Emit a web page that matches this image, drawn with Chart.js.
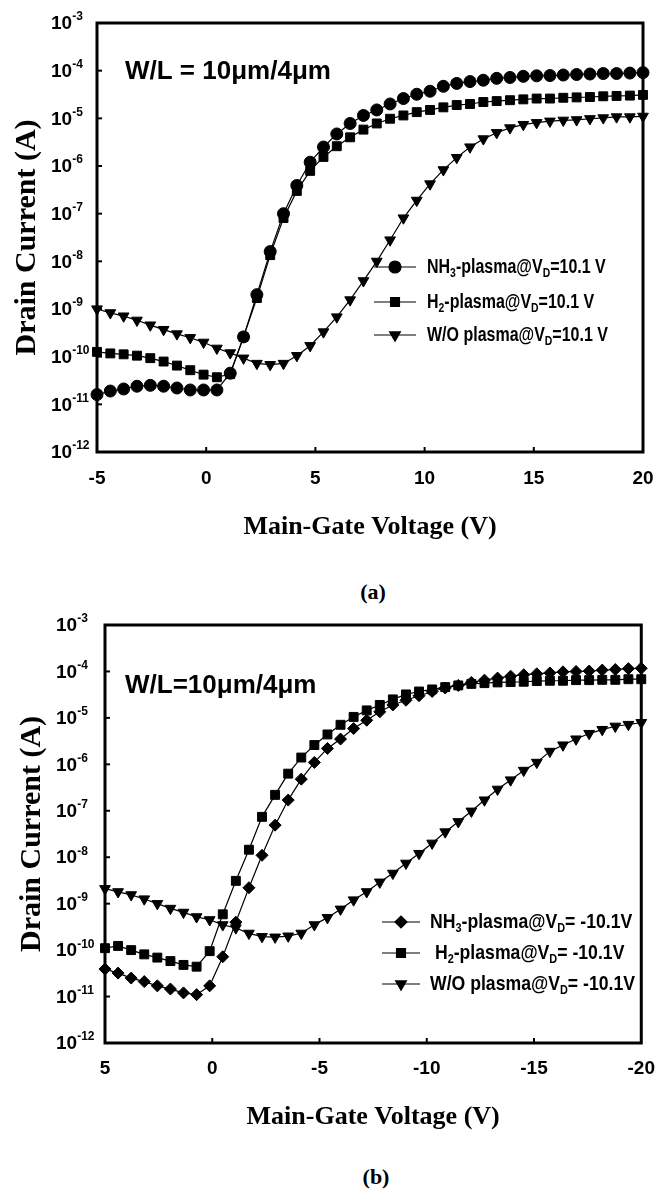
<!DOCTYPE html>
<html>
<head>
<meta charset="utf-8">
<title>Drain current vs main-gate voltage</title>
<script src="https://cdn.jsdelivr.net/npm/chart.js@4.4.0/dist/chart.umd.min.js"></script>
<style>
  html, body { margin: 0; padding: 0; background: #fff; }
  body { position: relative; width: 669px; height: 1189px; overflow: hidden; }
  .panel { position: absolute; left: 0; width: 669px; height: 560px; }
  .caption {
    position: absolute;
    font: bold 22px "Liberation Serif", "Times New Roman", serif;
    color: #000;
    transform: translate(-50%, -50%);
  }
</style>
</head>
<body>
<div class="panel" style="top:0px"><canvas id="chartA"></canvas></div>
<div class="caption" style="left:373px; top:592px">(a)</div>
<div class="panel" style="top:600px"><canvas id="chartB"></canvas></div>
<div class="caption" style="left:376px; top:1177px">(b)</div>
<script>
// y axis decades (exponents of 10)
const yTickExps = [-12, -11, -10, -9, -8, -7, -6, -5, -4, -3];

// (a) VD = 10.1 V, gate swept -5 .. 20 V
const xTicksA = [-5, 0, 5, 10, 15, 20];
const vgA = [
  -5.0, -4.39, -3.78, -3.17, -2.56, -1.95, -1.34, -0.73, -0.12, 0.49,
  1.1, 1.71, 2.32, 2.93, 3.54, 4.15, 4.76, 5.37, 5.98, 6.59,
  7.2, 7.81, 8.42, 9.03, 9.64, 10.25, 10.86, 11.47, 12.08, 12.69,
  13.3, 13.91, 14.52, 15.13, 15.74, 16.35, 16.96, 17.57, 18.18, 18.79,
  19.4, 20.0,
];
const nh3A = [
  1.6e-11, 1.9e-11, 2.1e-11, 2.4e-11, 2.5e-11, 2.4e-11, 2.2e-11, 2.0e-11, 2.0e-11, 2.0e-11,
  4.5e-11, 2.6e-10, 2.0e-9, 1.6e-8, 1.0e-7, 3.9e-7, 1.2e-6, 2.5e-6, 4.7e-6, 7.8e-6,
  1.15e-5, 1.5e-5, 2.0e-5, 2.6e-5, 3.2e-5, 3.7e-5, 4.7e-5, 5.4e-5, 5.9e-5, 6.3e-5,
  6.9e-5, 7.2e-5, 7.6e-5, 7.8e-5, 7.9e-5, 8.1e-5, 8.3e-5, 8.5e-5, 8.7e-5, 8.7e-5,
  8.9e-5, 9.1e-5,
];
const h2A = [
  1.26e-10, 1.17e-10, 1.12e-10, 1.05e-10, 9.3e-11, 7.9e-11, 6.5e-11, 5.2e-11, 4.2e-11, 3.7e-11,
  4.3e-11, 2.6e-10, 1.7e-9, 1.35e-8, 8.1e-8, 3.0e-7, 7.9e-7, 1.55e-6, 2.6e-6, 4.0e-6,
  5.8e-6, 7.8e-6, 9.8e-6, 1.15e-5, 1.35e-5, 1.5e-5, 1.7e-5, 1.9e-5, 2.0e-5, 2.2e-5,
  2.3e-5, 2.4e-5, 2.5e-5, 2.6e-5, 2.6e-5, 2.7e-5, 2.75e-5, 2.8e-5, 2.9e-5, 2.95e-5,
  3.0e-5, 3.1e-5,
];
const woA = [
  1.0e-9, 8.3e-10, 7.1e-10, 5.8e-10, 4.6e-10, 3.7e-10, 3.0e-10, 2.5e-10, 2.0e-10, 1.5e-10,
  1.2e-10, 9.3e-11, 7.2e-11, 6.8e-11, 7.2e-11, 1.05e-10, 1.7e-10, 3.3e-10, 6.8e-10, 1.55e-9,
  3.9e-9, 1.0e-8, 2.8e-8, 8.1e-8, 1.9e-7, 4.2e-7, 8.3e-7, 1.5e-6, 2.5e-6, 3.7e-6,
  5.0e-6, 6.3e-6, 7.4e-6, 8.1e-6, 8.7e-6, 9.1e-6, 9.3e-6, 9.8e-6, 1.02e-5, 1.07e-5,
  1.07e-5, 1.1e-5,
];

// (b) VD = -10.1 V, gate swept 5 .. -20 V
const xTicksB = [5, 0, -5, -10, -15, -20];
const vgB = [
  5.0, 4.39, 3.78, 3.17, 2.56, 1.95, 1.34, 0.73, 0.12, -0.49,
  -1.1, -1.71, -2.32, -2.93, -3.54, -4.15, -4.76, -5.37, -5.98, -6.59,
  -7.2, -7.81, -8.42, -9.03, -9.64, -10.25, -10.86, -11.47, -12.08, -12.69,
  -13.3, -13.91, -14.52, -15.13, -15.74, -16.35, -16.96, -17.57, -18.18, -18.79,
  -19.4, -20.0,
];
const nh3B = [
  3.9e-11, 3.2e-11, 2.5e-11, 2.1e-11, 1.7e-11, 1.45e-11, 1.2e-11, 1.1e-11, 1.7e-11, 7.2e-11,
  4.0e-10, 2.2e-9, 1.1e-8, 4.9e-8, 1.7e-7, 4.8e-7, 1.1e-6, 2.2e-6, 3.5e-6, 5.9e-6,
  8.9e-6, 1.35e-5, 1.9e-5, 2.4e-5, 3.0e-5, 3.7e-5, 4.4e-5, 5.0e-5, 5.8e-5, 6.5e-5,
  7.2e-5, 7.9e-5, 8.5e-5, 8.9e-5, 9.3e-5, 9.8e-5, 1.0e-4, 1.02e-4, 1.07e-4, 1.1e-4,
  1.15e-4, 1.17e-4,
];
const h2B = [
  1.1e-10, 1.23e-10, 1.0e-10, 8.1e-11, 6.9e-11, 5.8e-11, 4.8e-11, 4.4e-11, 9.5e-11, 5.9e-10,
  3.1e-9, 1.45e-8, 7.4e-8, 2.2e-7, 6.3e-7, 1.4e-6, 2.6e-6, 4.4e-6, 7.1e-6, 1.05e-5,
  1.45e-5, 1.9e-5, 2.5e-5, 3.2e-5, 3.7e-5, 4.1e-5, 4.6e-5, 5.0e-5, 5.4e-5, 5.6e-5,
  5.8e-5, 5.9e-5, 6.0e-5, 6.2e-5, 6.3e-5, 6.3e-5, 6.5e-5, 6.5e-5, 6.6e-5, 6.6e-5,
  6.8e-5, 6.8e-5,
];
const woB = [
  2.1e-9, 1.8e-9, 1.55e-9, 1.26e-9, 1.0e-9, 7.9e-10, 6.5e-10, 5.2e-10, 4.5e-10, 3.5e-10,
  3.0e-10, 2.3e-10, 1.95e-10, 1.9e-10, 2.0e-10, 2.3e-10, 3.5e-10, 5.0e-10, 7.6e-10, 1.2e-9,
  1.8e-9, 2.9e-9, 4.5e-9, 7.4e-9, 1.2e-8, 2.0e-8, 3.5e-8, 5.8e-8, 9.8e-8, 1.7e-7,
  2.9e-7, 4.6e-7, 7.4e-7, 1.1e-6, 1.9e-6, 2.6e-6, 3.5e-6, 4.6e-6, 5.6e-6, 6.6e-6,
  7.2e-6, 7.9e-6,
];

// legend labels: "_" marks a subscript piece
const legendA = [
  ["NH", "_3", "-plasma@V", "_D", "=10.1 V"],
  ["H", "_2", "-plasma@V", "_D", "=10.1 V"],
  ["W/O plasma@V", "_D", "=10.1 V"],
];
const legendB = [
  ["NH", "_3", "-plasma@V", "_D", "= -10.1V"],
  [" H", "_2", "-plasma@V", "_D", "= -10.1V"],
  ["W/O plasma@V", "_D", "= -10.1V"],
];

const SANS = "'Liberation Sans', Arial, sans-serif";
const SERIF = "'Liberation Serif', 'Times New Roman', serif";

// draws text pieces; "_" = subscript, "^" = superscript
function drawRichText(ctx, pieces, x, y, size, squeeze) {
  ctx.save();
  ctx.translate(x, y);
  ctx.scale(squeeze, 1);
  ctx.textAlign = "left";
  ctx.textBaseline = "middle";
  let cx = 0;
  pieces.forEach(function (p) {
    const kind = p.charAt(0);
    const small = kind === "_" || kind === "^";
    const txt = small ? p.slice(1) : p;
    const fs = small ? Math.round(size * 0.64) : size;
    ctx.font = "bold " + fs + "px " + SANS;
    let dy = 0;
    if (kind === "_") dy = size * 0.3;
    if (kind === "^") dy = -size * 0.36;
    ctx.fillText(txt, cx, dy);
    cx += ctx.measureText(txt).width;
  });
  ctx.restore();
}

function drawMarker(ctx, style, rotation, radius, x, y) {
  if (Chart.helpers && Chart.helpers.drawPoint) {
    Chart.helpers.drawPoint(ctx, { pointStyle: style, rotation: rotation, radius: radius, borderWidth: 1 }, x, y);
  } else {
    ctx.beginPath();
    ctx.arc(x, y, radius, 0, Math.PI * 2);
    ctx.fill();
  }
}

const plotDecor = {
  id: "plotDecor",
  beforeDatasetsDraw(chart, args, opts) {
    const ctx = chart.ctx;
    const a = chart.chartArea;
    const xs = chart.scales.x;
    const ys = chart.scales.y;
    ctx.save();
    ctx.strokeStyle = "#000";
    ctx.lineWidth = 2;
    ys.ticks.forEach(function (t) {
      const y = ys.getPixelForValue(t.value);
      if (y <= a.top + 2 || y >= a.bottom - 2) return;
      ctx.beginPath();
      ctx.moveTo(a.left, y);
      ctx.lineTo(a.left + 5, y);
      ctx.stroke();
    });
    xs.ticks.forEach(function (t) {
      const x = xs.getPixelForValue(t.value);
      if (x <= a.left + 2 || x >= a.right - 2) return;
      ctx.beginPath();
      ctx.moveTo(x, a.bottom);
      ctx.lineTo(x, a.bottom - 5);
      ctx.stroke();
    });
    ctx.lineWidth = 3;
    ctx.strokeRect(a.left, a.top, a.right - a.left, a.bottom - a.top);
    ctx.restore();
  },
  afterDraw(chart, args, opts) {
    const ctx = chart.ctx;
    const a = chart.chartArea;
    const ys = chart.scales.y;
    ctx.save();
    ctx.fillStyle = "#000";
    ctx.strokeStyle = "#000";

    // y tick labels as 10 with a raised exponent
    ys.ticks.forEach(function (t) {
      const y = ys.getPixelForValue(t.value);
      const e = Math.round(Math.log10(t.value));
      drawRichText(ctx, ["10", "^" + e], a.left - opts.yLabelGap, y + 1, 19, 1);
    });

    // W/L note
    ctx.font = "bold 26px " + SANS;
    ctx.textAlign = "left";
    ctx.textBaseline = "middle";
    ctx.fillText(opts.note, a.left + opts.noteDx, a.top + opts.noteDy);

    // legend
    const lg = opts.legend;
    chart.data.datasets.forEach(function (ds, i) {
      const y = lg.rows[i];
      ctx.lineWidth = 1.2;
      ctx.beginPath();
      ctx.moveTo(lg.markerX - lg.half, y);
      ctx.lineTo(lg.markerX + lg.half, y);
      ctx.stroke();
      drawMarker(ctx, ds.pointStyle, ds.pointRotation || 0, ds.pointRadius, lg.markerX, y);
      drawRichText(ctx, lg.labels[i], lg.textX, y, lg.size, lg.squeeze);
    });
    ctx.restore();
  },
};

function series(xs, ys, style, radius, rotation) {
  return {
    data: xs.map(function (x, i) { return { x: x, y: ys[i] }; }),
    borderColor: "#000",
    backgroundColor: "#000",
    borderWidth: 1.2,
    pointStyle: style,
    pointRadius: radius,
    pointRotation: rotation,
    pointBorderWidth: 1,
    pointBackgroundColor: "#000",
    pointBorderColor: "#000",
    tension: 0,
    clip: false,
  };
}

function makeChart(id, cfg) {
  const ctx = document.getElementById(id).getContext("2d");
  return new Chart(ctx, {
    type: "line",
    data: {
      datasets: [
        series(cfg.vg, cfg.nh3, cfg.nh3Style, 6, 0),
        series(cfg.vg, cfg.h2, "rect", 6.3, 0),
        series(cfg.vg, cfg.wo, "triangle", 6.2, 180),
      ],
    },
    plugins: [plotDecor],
    options: {
      animation: false,
      responsive: true,
      maintainAspectRatio: false,
      devicePixelRatio: 1,
      layout: { padding: { top: cfg.padTop, right: cfg.padRight, left: 0, bottom: 0 } },
      scales: {
        x: {
          type: "linear",
          min: Math.min.apply(null, cfg.xTicks),
          max: Math.max.apply(null, cfg.xTicks),
          reverse: cfg.reverse,
          afterBuildTicks: function (scale) {
            scale.ticks = cfg.xTicks.map(function (v) { return { value: v }; });
          },
          afterFit: function (scale) { scale.height = cfg.xHeight; },
          grid: { display: false, drawTicks: false },
          border: { display: false },
          ticks: {
            padding: cfg.xTickPad,
            color: "#000",
            font: { family: SANS, size: 19, weight: "bold" },
            maxRotation: 0,
          },
          title: {
            display: true,
            text: "Main-Gate Voltage (V)",
            color: "#000",
            font: { family: SERIF, size: 26, weight: "bold" },
            padding: { top: 0, bottom: cfg.xTitlePad },
          },
        },
        y: {
          type: "logarithmic",
          min: 1e-12,
          max: 1e-3,
          afterBuildTicks: function (scale) {
            scale.ticks = yTickExps.map(function (e) { return { value: Math.pow(10, e) }; });
          },
          afterFit: function (scale) { scale.width = cfg.yWidth; },
          grid: { display: false, drawTicks: false },
          border: { display: false },
          ticks: { display: false },
          title: {
            display: true,
            text: "Drain Current (A)",
            color: "#000",
            font: { family: SERIF, size: 30, weight: "bold" },
            padding: { top: cfg.yTitlePad, bottom: 0 },
          },
        },
      },
      plugins: {
        legend: { display: false },
        tooltip: { enabled: false },
        plotDecor: {
          yLabelGap: cfg.yLabelGap,
          note: cfg.note,
          noteDx: cfg.noteDx,
          noteDy: cfg.noteDy,
          legend: cfg.legend,
        },
      },
    },
  });
}

function initializeCharts() {
  Chart.defaults.font.family = SANS;
  Chart.defaults.color = "#000";

  makeChart("chartA", {
    vg: vgA, nh3: nh3A, h2: h2A, wo: woA, nh3Style: "circle",
    xTicks: xTicksA, reverse: false,
    padTop: 23, padRight: 26, yWidth: 97, xHeight: 108,
    xTickPad: 15, xTitlePad: 17, yTitlePad: 9, yLabelGap: 46,
    note: "W/L = 10\u03bcm/4\u03bcm", noteDx: 28, noteDy: 49,
    legend: { labels: legendA, markerX: 395, half: 21, textX: 427, rows: [267, 302, 335], size: 20, squeeze: 0.8 },
  });

  makeChart("chartB", {
    vg: vgB, nh3: nh3B, h2: h2B, wo: woB, nh3Style: "rectRot",
    xTicks: xTicksB, reverse: true,
    padTop: 25, padRight: 17, yWidth: 105, xHeight: 117,
    xTickPad: 14, xTitlePad: 27, yTitlePad: 14, yLabelGap: 49,
    note: "W/L=10\u03bcm/4\u03bcm", noteDx: 20, noteDy: 61,
    legend: { labels: legendB, markerX: 401, half: 19, textX: 430, rows: [322, 353, 384], size: 21, squeeze: 0.84 },
  });
}

if (document.readyState === "loading") {
  document.addEventListener("DOMContentLoaded", initializeCharts);
} else {
  initializeCharts();
}
</script>
</body>
</html>
